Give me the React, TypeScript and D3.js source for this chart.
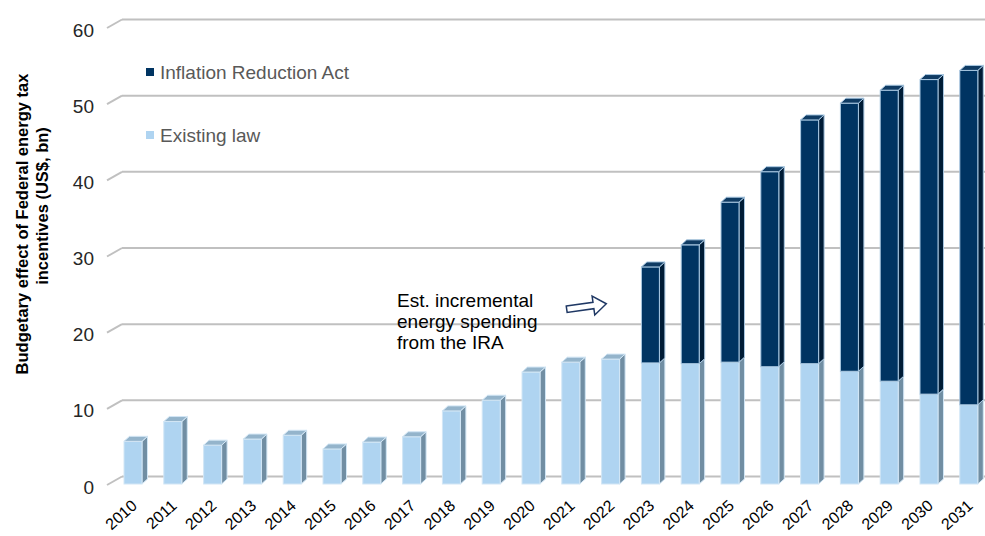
import React from "react";
import * as d3 from "d3";

const years = ["2010","2011","2012","2013","2014","2015","2016","2017","2018","2019","2020","2021","2022","2023","2024","2025","2026","2027","2028","2029","2030","2031"];
const existingLaw = [5.6, 8.2, 5.1, 5.9, 6.4, 4.6, 5.5, 6.2, 9.6, 11.0, 14.7, 16.0, 16.4, 15.9, 15.8, 16.0, 15.4, 15.8, 14.8, 13.5, 11.8, 10.4];
const inflationReductionAct = [0, 0, 0, 0, 0, 0, 0, 0, 0, 0, 0, 0, 0, 12.6, 15.6, 21.0, 25.6, 32.0, 35.2, 38.2, 41.3, 43.9];
const yTicks = [0, 10, 20, 30, 40, 50, 60];
const seriesKeys = ["existing", "ira"];
const legendLabels = ["Inflation Reduction Act", "Existing law"];
const annotationLines = ["Est. incremental", "energy spending", "from the IRA"];
const yTitleLines = ["Budgetary effect of Federal energy tax", "incentives (US$, bn)"];

const W = 985, H = 536;
const DX = 5.5, DY = 5;
const STEP = 39.8;
const FONT = "Arial, 'Liberation Sans', sans-serif";

const colors: Record<string, { front: string; side: string; top: string; edge: string }> = {
  existing: { front: "#afd4f1", side: "#718ea3", top: "#94b4cb", edge: "#d2e6f5" },
  ira: { front: "#003462", side: "#001c36", top: "#0f3b63", edge: "#a9c8e2" },
};

export default function App() {
  const data = years.map((y, i) => ({ year: y, existing: existingLaw[i], ira: inflationReductionAct[i] }));
  const stacked = d3.stack<any>().keys(seriesKeys)(data);

  const x = d3.scaleBand<string>()
    .domain(years)
    .range([113.1, 113.1 + years.length * STEP])
    .paddingInner(0.548)
    .paddingOuter(0.274);
  const bw = x.bandwidth();

  const yFront = d3.scaleLinear().domain([0, 60]).range([484, 27]);
  const yBack = d3.scaleLinear().domain([0, 60]).range([476.5, 19.5]);

  const arrowPts: [number, number][] = [
    [-20, -3.2], [7, -3.2], [7, -9.5], [20, 0], [7, 9.5], [7, 3.2], [-20, 3.2],
  ];

  return (
    <svg width={W} height={H} style={{ position: "absolute", left: 0, top: 0, background: "#fff" }} fontFamily={FONT}>
      {/* gridlines on back wall with floor diagonal */}
      {yTicks.map((t) => (
        <g key={t}>
          <line x1={122} x2={W} y1={yBack(t)} y2={yBack(t)} stroke="#c0c0c0" strokeWidth={2} />
          <line x1={107} x2={122} y1={yBack(t) + 8.5} y2={yBack(t)} stroke="#c0c0c0" strokeWidth={2} />
          <text x={94} y={yBack(t) + 17} textAnchor="end" fontSize={19} fill="#262626">{t}</text>
        </g>
      ))}

      {/* bars */}
      {data.map((d, i) => {
        const x0 = x(d.year)!;
        const segs = stacked
          .map((s) => ({ key: s.key, y0: s[i][0], y1: s[i][1] }))
          .filter((s) => s.y1 - s.y0 > 0);
        return (
          <g key={d.year}>
            {segs.map((s, si) => {
              const c = colors[s.key];
              const yt = yFront(s.y1);
              const yb = yFront(s.y0);
              const isTop = si === segs.length - 1;
              return (
                <g key={s.key}>
                  <polygon
                    points={`${x0 + bw},${yt} ${x0 + bw + DX},${yt - DY} ${x0 + bw + DX},${yb - DY} ${x0 + bw},${yb}`}
                    fill={c.side} stroke={c.edge} strokeWidth={1} strokeLinejoin="round"
                  />
                  <rect x={x0} y={yt} width={bw} height={yb - yt} fill={c.front} stroke={c.edge} strokeWidth={1} />
                  {isTop && (
                    <polygon
                      points={`${x0},${yt} ${x0 + DX},${yt - DY} ${x0 + bw + DX},${yt - DY} ${x0 + bw},${yt}`}
                      fill={c.top} stroke={c.edge} strokeWidth={1} strokeLinejoin="round"
                    />
                  )}
                </g>
              );
            })}
          </g>
        );
      })}

      {/* x labels */}
      {years.map((yr) => {
        const cx = x(yr)! + bw / 2 + 5;
        const cy = 507;
        return (
          <text key={yr} x={cx} y={cy} textAnchor="end" fontSize={16} fill="#000" transform={`rotate(-42 ${cx} ${cy})`}>
            {yr}
          </text>
        );
      })}

      {/* legend */}
      <rect x={146} y={68} width={8} height={8} fill={colors.ira.front} />
      <text x={160} y={79} fontSize={19} fill="#595959">{legendLabels[0]}</text>
      <rect x={146} y={131} width={8} height={8} fill={colors.existing.front} />
      <text x={160} y={142} fontSize={19} fill="#595959">{legendLabels[1]}</text>

      {/* annotation */}
      {annotationLines.map((l, i) => (
        <text key={i} x={397} y={306.5 + i * 21} fontSize={19} fill="#000">{l}</text>
      ))}
      <polygon
        points={arrowPts.map((p) => p.join(",")).join(" ")}
        transform="translate(586.5 306.5) rotate(-8)"
        fill="#fff" stroke="#1f3864" strokeWidth={1.5} strokeLinejoin="miter"
      />

      {/* y axis title */}
      <text transform="translate(28 224) rotate(-90)" textAnchor="middle" fontSize={16.5} fontWeight="bold" fill="#000">{yTitleLines[0]}</text>
      <text transform="translate(48 206) rotate(-90)" textAnchor="middle" fontSize={16.5} fontWeight="bold" fill="#000">{yTitleLines[1]}</text>
    </svg>
  );
}
